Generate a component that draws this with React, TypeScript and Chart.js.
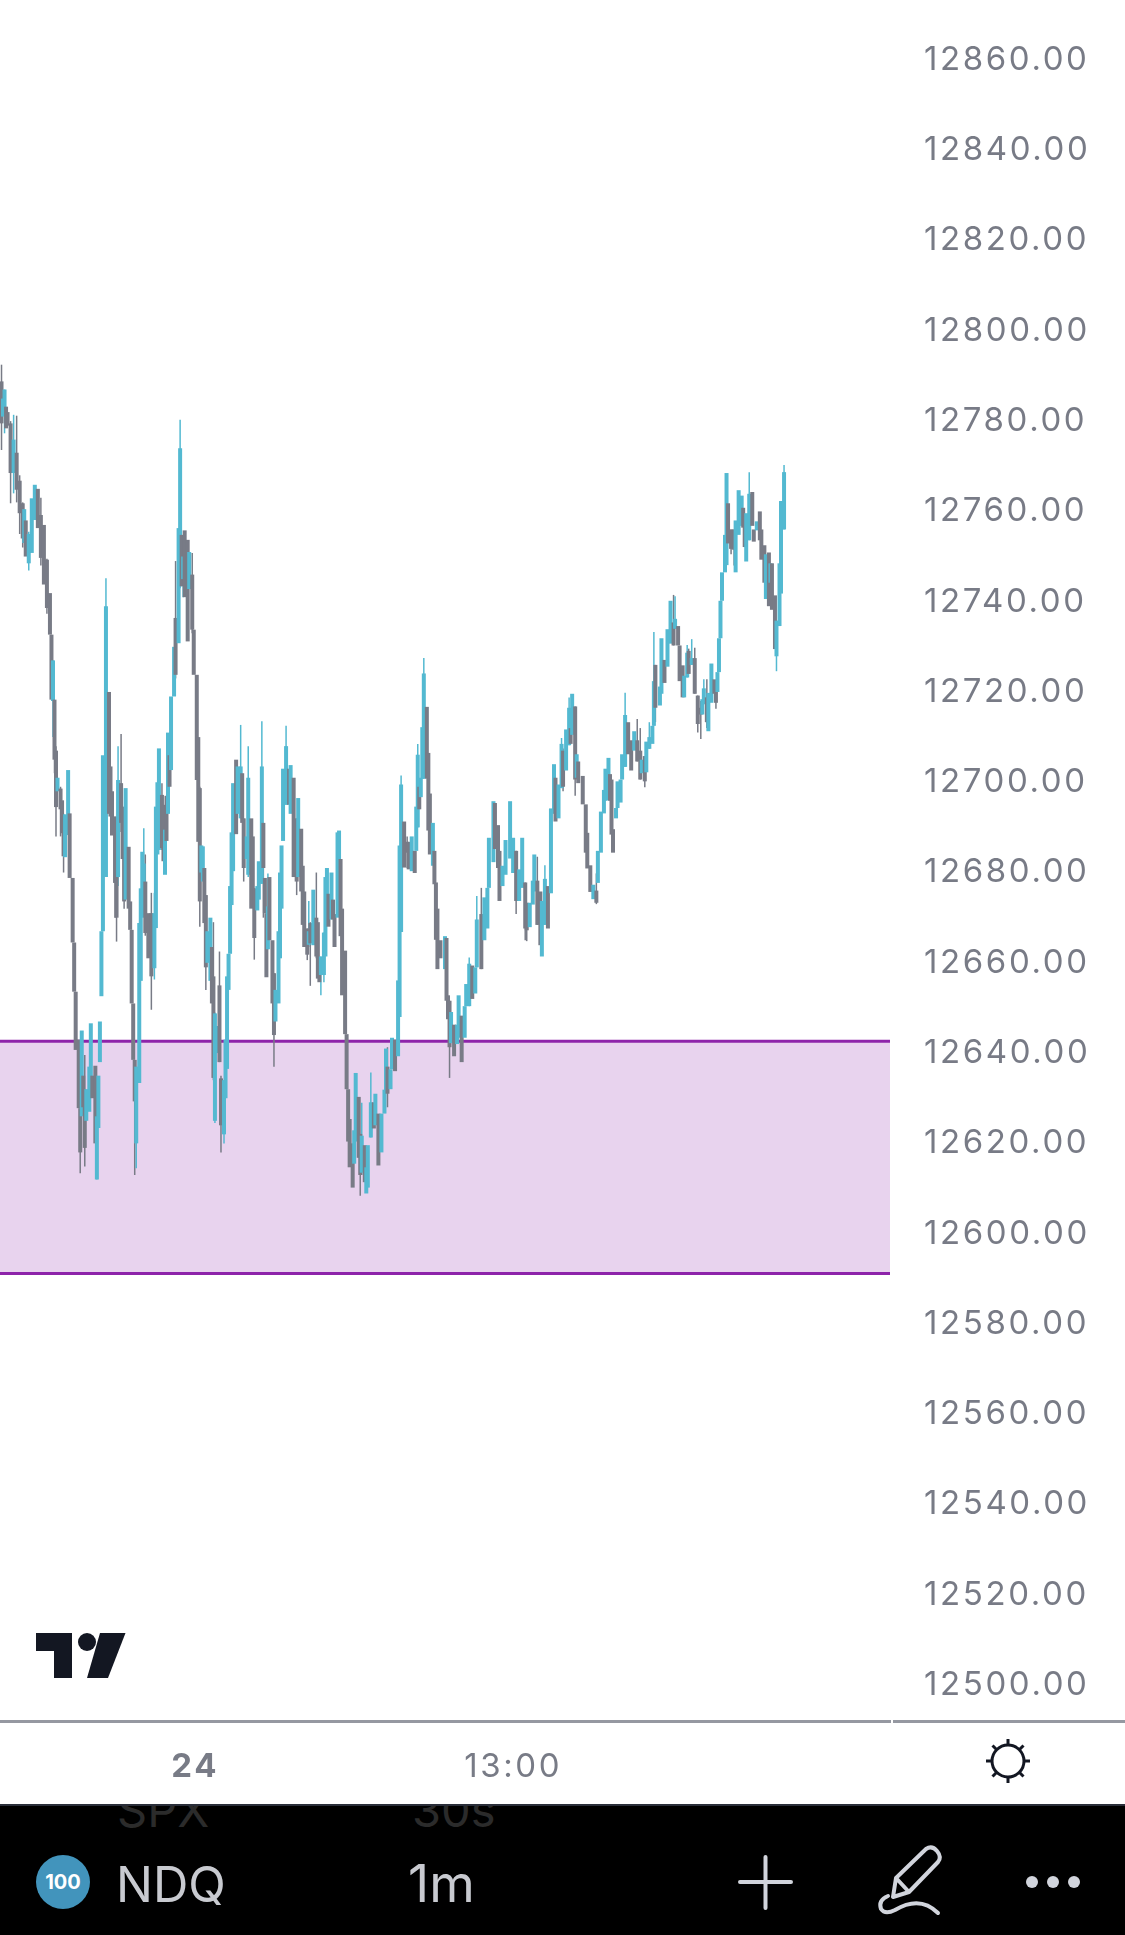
import React, { useEffect, useRef } from "react";
import { Chart, registerables } from "chart.js";

Chart.register(...registerables);

const minutes = [
1,2,3,4,5,7,9,11,13,15,16,17,19,21,23,25,27,29,31,33,
34,35,36,37,38,40,41,42,43,45,46,48,49,50,52,53,54,55,56,57,
59,60,61,63,64,65,66,67,68,70,72,73,74,76,77,78,80,81,82,83,
85,86,87,88,89,90,92,93,94,95,96,98,100,102,103,104,105,107,108,109,
110,111,112,113,115,116,118,119,120,121,122,124,125,127,128,130,131,132,133,134,
135,136,137,139,140,141,142,143,145,146,148,149,150,151,152,153,154,156,157,159,
160,161,163,164,166,167,168,170,171,173,174,175,176,177,178,180,181,182,184,185,
186,187,189,191,192,194,196,197,199,200,201,203,204,205,207,209,210,211,212,214,
215,216,217,219,220,221,223,224,225,226,228,229,230,231,233,234,235,237,238,239,
241,242,243,245,247,248,250,252,254,255,256,258,259,261,263,264,265,267,269,270,
272,274,275,276,277,278,279,280,282,283,284,286,287,288,289,291,294,295,296,297,
298,300,302,303,305,307,308,310,312,314,315,318,320,322,323,326,327,329,330,332,
334,337,339,341,343,345,347,348,350,352,353,355,357,358,360,362,364,366,367,369,
371,372,374,376,377,378,380,381,382,385,387,388,390,392,394,395,397,399,400,402,
403,404,405,407,408,410,411,413,415,417,419,421,423,424,426,427,429,431,432,433,
436,437,439,441,443,445,446,448,449,451,452,454,455,457,459,461,463,464,465,467,
468,470,472,473,474,475,476,477,479,480,481,483,485,486,488,490,491,492,493,495,
497,498,500,502,503,505,506,508,509,510,512,513,515,516,518,
];

const opens = [
12788.8,12781,12781.4,12783.2,12782,12779.5,12768.5,12773,12766.8,12761.8,12753,12758,12748.5,12750.8,12758.1,12765,12759.2,12757,12749.3,12741.9,
12732.7,12718,12718.3,12707,12698,12698.6,12696,12692.7,12683.4,12688.3,12693.1,12678.8,12664.5,12653.6,12643,12627.8,12626,12635,12631.9,12625,
12627,12630.4,12635,12637.2,12612,12623.4,12638,12652.6,12667,12679,12720,12703.5,12698,12692.4,12685,12679,12699.8,12694.6,12685,12674,
12685.7,12673.6,12667.3,12651,12638.5,12620,12633.4,12656,12670,12671,12678,12671,12671,12658.8,12667.7,12684,12685,12697.2,12695,12679.5,
12697,12693,12706,12702.7,12719,12736.4,12730.8,12743.4,12754.8,12745,12755.8,12753.7,12742.8,12746,12733.8,12723.8,12710,12698.7,12680,12678,
12681,12675,12660,12656,12663.5,12657,12625,12640,12655,12634.4,12622,12630,12636.5,12654,12662,12672.8,12680.3,12705,12693,12692,
12702,12692,12683,12679.5,12692,12688,12676.5,12671.6,12674,12677.5,12691,12678.8,12671,12663,12679,12665,12657.7,12647,12651,12661,
12672,12687,12695,12703,12693,12701,12692,12679,12689.7,12681.5,12675.8,12667.6,12664,12668.8,12663.9,12670,12669,12660,12657.3,12657.3,
12661.4,12668.4,12675.3,12669.6,12674,12670.8,12670,12675,12683,12672,12662.7,12644.2,12632,12625.4,12620,12615.5,12620.4,12630.3,12622.1,12613.5,
12619.6,12608.9,12610.2,12621.3,12629.1,12624,12626.6,12618,12626.6,12631.5,12637,12632,12636.4,12643,12639.3,12648,12666.8,12691.3,12686.8,12686.8,
12680.3,12684.8,12684.8,12690,12699,12696.7,12700.8,12700.8,12716.7,12706.5,12697.5,12681.5,12684.8,12677.8,12672,12665,12658.6,12665.5,12652.8,12651.6,
12642.2,12646.3,12642,12643.4,12648.3,12643.4,12650.4,12650.4,12659.4,12653.2,12659,12670.8,12665,12667.6,12676.6,12682.3,12695.4,12690.5,12684.8,12677,
12679.5,12683.1,12679.9,12684.8,12673.7,12676.6,12677.8,12673.3,12667.9,12672.9,12675.8,12678.2,12675.8,12661.4,12668.4,12677,12675.4,12693,12701,12692,
12698.7,12707,12702.6,12708.2,12712,12710.5,12716.8,12701,12704.6,12701.4,12695.1,12688.8,12681.6,12674.1,12676,12677.7,12684.4,12693.1,12695.9,12696,
12701.8,12700.6,12689.6,12692,12694.3,12695.5,12700.6,12703.4,12713.3,12709.3,12707,12709.3,12707,12702,12705.8,12702.2,12707.4,12708.5,12712.5,12726,
12717,12719.6,12727.1,12725.6,12730.7,12735.4,12734,12734.6,12730.3,12725.9,12718.8,12723.2,12729.1,12726,12727.5,12719.2,12716.5,12715,12717.3,12718.8,
12711.3,12717.6,12722.8,12720,12720,12724.4,12731.9,12740.2,12746.5,12748.1,12761.8,12756,12756,12746.5,12754.8,12756.8,12760.8,12758.8,12748.9,12753.6,
12764.3,12756,12755.8,12760,12756,12752.5,12740.6,12750.9,12744.2,12748.5,12741.4,12727.9,12734.6,12741.8,12756,
];

const closes = [
12779.5,12785,12787,12778.4,12779,12768.5,12775.9,12764.8,12759.6,12754,12760.5,12750,12755,12762.9,12765.9,12756.3,12749.7,12743.8,12738.6,12732.7,
12718.3,12727,12705,12694.5,12701,12694,12688.7,12683.6,12692.9,12702.7,12678.8,12664.5,12653.6,12640.7,12627.8,12618,12645,12628,12619,12632,
12637,12646.6,12630,12620,12626,12635,12647,12667,12706,12739,12693,12692.4,12688.2,12677.7,12670,12700.5,12691,12683,12673.6,12698.7,
12672,12667.3,12651,12638.5,12629.3,12637,12668.8,12676.5,12684.6,12682,12666.6,12661,12657,12671,12694.6,12700,12707.5,12685.4,12682.5,12689.5,
12687,12711,12699,12719,12730,12723.8,12756.3,12774,12743.4,12750,12741,12731.2,12751,12733.8,12723.8,12700.5,12686.8,12673.6,12686,12685.8,
12668.8,12659,12667,12670,12651,12634.5,12648.8,12646,12638,12624,12634,12643,12657,12662,12677,12688.9,12699.8,12688.5,12703.5,12703.5,
12691,12681,12688,12701,12672,12673,12665.5,12677,12682.5,12703.5,12681,12671,12656.8,12672.5,12665,12651,12644,12654,12667,12680,
12686,12703,12708,12695,12703.8,12679,12678,12696.5,12675.8,12668.4,12663.5,12661.8,12667,12664.3,12676.2,12661.4,12656.5,12655.7,12661.4,12666.7,
12679,12681,12668,12680,12669.6,12663.5,12688.9,12689.3,12665.9,12652.8,12644.2,12632,12620.4,12614.7,12610.2,12622.9,12635.6,12616.8,12613,12621.7,
12611.4,12614.7,12619.6,12629.1,12623.3,12631,12615.1,12626.6,12631.9,12641,12631,12636.4,12643.4,12636,12656.1,12686,12699.5,12681.1,12684.4,12680.7,
12688,12679.9,12694.6,12706.1,12694,12701,12712.2,12724.1,12700.8,12689.3,12684,12691,12677.4,12665.1,12658.6,12661,12665.9,12651.6,12647.5,12641.3,
12649.1,12639.3,12646.3,12652.8,12638,12650.4,12655.3,12659.8,12652,12659,12669.6,12658.6,12674.5,12676.6,12687.7,12695.8,12685.2,12681,12673.7,12681.5,
12687.2,12695.8,12687.7,12673.7,12680.7,12687.7,12667.6,12667.2,12673.3,12678.2,12684,12668.4,12663.9,12673.7,12678.6,12667.6,12694.2,12704,12691.3,12699.5,
12708.5,12699,12711.7,12716.5,12708.5,12719.6,12700.6,12706.2,12699.8,12695.1,12684.4,12680.9,12675.7,12677.3,12673.3,12684.8,12693.5,12698.3,12703,12705.4,
12695.9,12688.4,12684.4,12694.3,12700.2,12700.6,12706.2,12714.9,12706.2,12702.6,12711.3,12704.6,12700.6,12705,12700.2,12709,12710,12712.5,12722.4,12716.5,
12721.2,12731.9,12722,12733.9,12740.2,12730.3,12736.2,12730.3,12722.4,12718.8,12723.6,12728.7,12724,12727.5,12719.6,12712.9,12715,12718.4,12720.8,12713.3,
12719.8,12726.3,12719.6,12717.6,12724.4,12731.9,12740.2,12746.5,12754.8,12768.5,12752.9,12751.7,12751.5,12758,12764.7,12763.5,12756.4,12752.1,12759.6,12763.9,
12756.8,12753.3,12757.8,12753.6,12749.3,12744.2,12750.5,12739,12748.5,12738.2,12729.5,12735.8,12748.5,12762.3,12768.7,
];

const wickMinutes = [
1,3,7,9,11,13,15,19,27,31,35,36,37,40,42,53,56,64,70,76,
77,78,80,82,89,90,95,96,100,102,107,116,119,121,127,132,136,141,142,145,
146,148,159,161,164,168,173,174,177,181,189,196,203,204,205,209,212,214,238,239,
245,256,265,269,276,280,297,310,315,318,341,347,348,355,360,371,372,376,380,394,
413,421,423,426,429,432,433,445,446,454,455,457,459,461,463,465,467,473,483,485,
495,513,518,
];

const wickHighs = [
12792.5,12787,12780,12781.4,12781.2,12768,12762,12755.5,12763,12749.5,12727,12714,12708,12699,12693,12631,12639.6,12628,12745.2,12692.4,
12685,12708,12710.7,12686,12637,12637,12689.8,12684,12675.5,12675.5,12699.8,12749,12780.3,12750,12750.8,12699,12675,12669,12649,12662.5,
12635,12634,12712.7,12692,12708,12676.5,12713.5,12691,12679.8,12657.7,12712.5,12692,12667.6,12673.7,12669,12680,12661.4,12666.7,12622.1,12629,
12635.7,12641.3,12701.5,12688,12708.5,12727.5,12651.6,12661.2,12674.8,12676.6,12684.8,12677.8,12673.3,12683.5,12681.6,12709.8,12707.5,12718.8,12716.8,12679.8,
12719.8,12714,12712,12705.8,12713.3,12733.3,12726,12741.5,12741.2,12730.4,12729.6,12731.7,12729.8,12719.2,12718,12722.8,12722.8,12720,12756,12756,
12768.7,12735.8,12770.3,
];

const wickLows = [
12773.6,12777.3,12761.8,12764,12762,12755,12752,12746.9,12748,12737.3,12710,12702,12688,12688,12680,12613.4,12614.9,12612,12679,12670,
12664.7,12677,12689,12672,12613,12614.5,12671,12666,12649.6,12656.3,12685,12723,12743,12741,12733,12668,12654,12634,12624.5,12638,
12618,12620,12692,12678,12679,12660.7,12677.5,12670,12663,12637,12695,12675,12660.6,12663.5,12654.9,12661,12652.8,12655.7,12608.4,12613,
12621.3,12628,12666.8,12681,12690,12700.8,12634.5,12650.4,12659,12658.6,12670.8,12665,12664.8,12668.4,12668.4,12698.7,12698,12708.2,12697,12673,
12703.4,12704.6,12700.6,12698.9,12707.4,12712.5,12713.3,12730.3,12734,12723.2,12724,12726,12719.6,12711,12709.6,12717.3,12712,12716.3,12750.5,12748,
12753.6,12724.6,12756,
];

const zoneTop = 12642.6;
const zoneBottom = 12591.2;
const priceTicks = [12500,12520,12540,12560,12580,12600,12620,12640,12660,12680,12700,12720,12740,12760,12780,12800,12820,12840,12860];
const timeTickMinutes = [129, 339];
const timeTickLabels = ["24", "13:00"];

const UP = "#53b9d1";
const DOWN = "#787b86";
const AXIS_MIN = 12492.04;
const AXIS_MAX = 12873.29;
const X_MAX = 588;
const FONT = "Inter, 'Noto Sans', sans-serif";

function barColor(o: number, c: number) {
  return c >= o ? UP : DOWN;
}

const spacing = {
  id: "labelSpacing",
  beforeDraw(chart: any) {
    chart.ctx.letterSpacing = "2.6px";
  },
};

export default function App() {
  const ref = useRef<HTMLCanvasElement | null>(null);
  useEffect(() => {
    const canvas = ref.current;
    if (!canvas) return;
    const wickColor = wickMinutes.map((m) => {
      const i = minutes.indexOf(m);
      return barColor(opens[i], closes[i]);
    });
    const chart = new Chart(canvas, {
      type: "bar",
      plugins: [spacing],
      data: {
        datasets: [
          {
            type: "bar",
            order: 1,
            grouped: false,
            barThickness: 4,
            inflateAmount: 0,
            backgroundColor: minutes.map((_, i) => barColor(opens[i], closes[i])),
            data: minutes.map((m, i) => ({ x: m, y: [opens[i], closes[i]] })),
          },
          {
            type: "bar",
            order: 2,
            grouped: false,
            barThickness: 1.5,
            inflateAmount: 0,
            backgroundColor: wickColor,
            data: wickMinutes.map((m, i) => ({ x: m, y: [wickLows[i], wickHighs[i]] })),
          },
          {
            type: "line",
            order: 3,
            borderColor: "#8e24aa",
            borderWidth: 3,
            pointRadius: 0,
            fill: "+1",
            backgroundColor: "rgba(142,36,170,0.2)",
            data: [{ x: 0, y: zoneTop }, { x: X_MAX, y: zoneTop }],
          },
          {
            type: "line",
            order: 4,
            borderColor: "#8e24aa",
            borderWidth: 3,
            pointRadius: 0,
            fill: false,
            data: [{ x: 0, y: zoneBottom }, { x: X_MAX, y: zoneBottom }],
          },
        ],
      } as any,
      options: {
        responsive: false,
        animation: false,
        layout: { padding: 0 },
        plugins: { legend: { display: false }, tooltip: { enabled: false } },
        scales: {
          x: {
            type: "linear",
            min: 0,
            max: X_MAX,
            offset: false,
            grid: { display: false },
            border: { display: true, color: "#9598a1", width: 3 },
            afterBuildTicks: (s: any) => {
              s.ticks = timeTickMinutes.map((v) => ({ value: v }));
            },
            afterFit: (s: any) => {
              s.height = 83;
              s.paddingLeft = 0;
              s.paddingRight = 0;
            },
            ticks: {
              autoSkip: false,
              maxRotation: 0,
              padding: 18,
              color: "#787b86",
              font: (ctx: any) => ({ family: FONT, size: 33, weight: ctx.index === 0 ? "bold" : "normal" }),
              callback: (v: any) => timeTickLabels[timeTickMinutes.indexOf(v)] ?? "",
            },
          },
          y: {
            type: "linear",
            position: "right",
            min: AXIS_MIN,
            max: AXIS_MAX,
            grid: { display: false },
            border: { display: false },
            afterBuildTicks: (s: any) => {
              s.ticks = priceTicks.map((v) => ({ value: v }));
            },
            afterFit: (s: any) => {
              s.width = 235;
              s.paddingTop = 0;
              s.paddingBottom = 0;
            },
            ticks: {
              autoSkip: false,
              padding: 26,
              color: "#787b86",
              font: { family: FONT, size: 33 },
              callback: (v: any) => Number(v).toFixed(2),
            },
          },
        },
      } as any,
    });
    return () => chart.destroy();
  }, []);

  const ink = "#d1d4dc";
  return (
    <div style={{ position: "absolute", left: 0, top: 0, width: 1125, height: 1935, background: "#fff", overflow: "hidden" }}>
      <canvas ref={ref} width={1125} height={1804} style={{ position: "absolute", left: 0, top: 0, display: "block" }} />
      <svg width={1125} height={1935} style={{ position: "absolute", left: 0, top: 0 }} fontFamily={FONT}>
        <rect x={893} y={1720} width={232} height={3} fill="#9598a1" />
        <path d="M36 1633H72V1678H54V1651H36Z" fill="#131722" />
        <circle cx={87} cy={1642} r={9} fill="#131722" />
        <path d="M100 1633H125.5L108 1678H87Z" fill="#131722" />
        <g stroke="#131722" strokeWidth={3} fill="none">
          <circle cx={1008} cy={1761} r={16} />
          <path d="M1008 1739V1745M1008 1777V1783M986 1761H992M1024 1761H1030M992.5 1745.5L996.5 1749.5M1019.5 1772.5L1023.5 1776.5M1023.5 1745.5L1019.5 1749.5M996.5 1772.5L992.5 1776.5" />
        </g>
        <rect x={0} y={1804} width={1125} height={131} fill="#000" />
        <rect x={0} y={1804} width={1125} height={2} fill="#2a2e39" />
        <clipPath id="foot"><rect x={0} y={1806} width={1125} height={129} /></clipPath>
        <g clipPath="url(#foot)" fontSize={47} fill="#2b2b2b">
          <text x={117} y={1827}>SPX</text>
          <text x={412} y={1827}>30s</text>
        </g>
        <circle cx={63} cy={1882} r={27} fill="#4294bc" />
        <text x={63} y={1889} textAnchor="middle" fontSize={20} fontWeight={700} fill="#fff">100</text>
        <text x={116} y={1902} fontSize={49} fill="#c8cad0">NDQ</text>
        <text x={408} y={1902} fontSize={52} fill="#c8cad0">1m</text>
        <path d="M740 1882H791M765.5 1857V1908" stroke={ink} strokeWidth={4} strokeLinecap="round" fill="none" />
        <path d="M893 1897L896 1878L926 1849Q932 1845 937 1851Q942 1857 938 1862L909 1892ZM896 1878L909 1892M888 1896Q878 1900 881 1909Q885 1915 895 1910Q920 1895 938 1913" stroke={ink} strokeWidth={4} strokeLinecap="round" strokeLinejoin="round" fill="none" />
        <circle cx={1032} cy={1882} r={6} fill={ink} />
        <circle cx={1053} cy={1882} r={6} fill={ink} />
        <circle cx={1074} cy={1882} r={6} fill={ink} />
      </svg>
    </div>
  );
}
